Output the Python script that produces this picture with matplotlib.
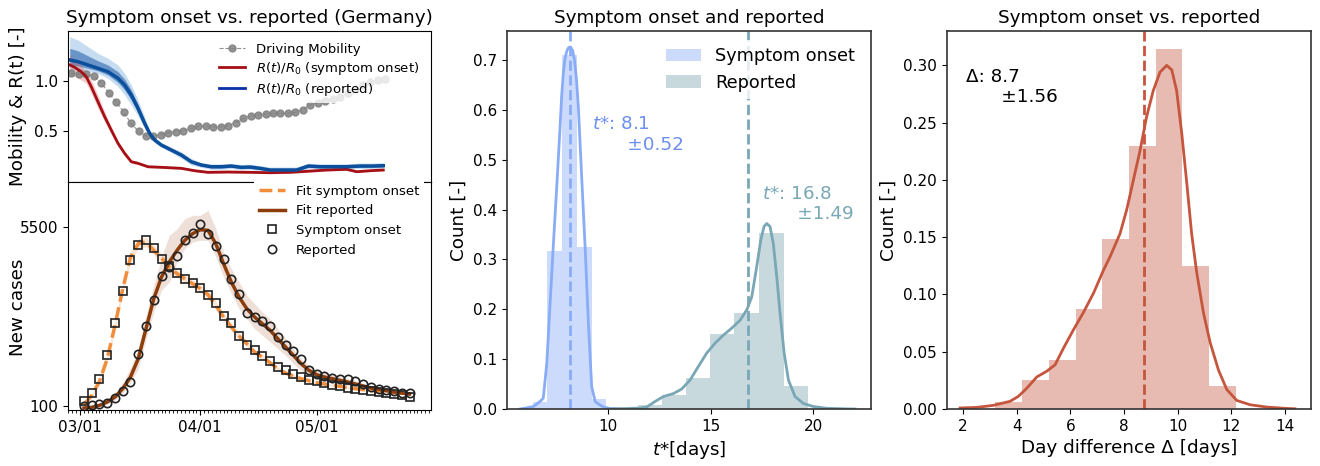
import numpy as np
import matplotlib
matplotlib.use('Agg')
import matplotlib.pyplot as plt
import matplotlib.dates as mdates
import pandas as pd
from datetime import datetime

# ---- upper left: mobility and R(t)/R0 (x = sample index) ----
mobility = [1.077, 1.07, 1.067, 1.05, 0.983, 0.883, 0.79, 0.69, 0.577, 0.497,
            0.45, 0.453, 0.463, 0.48, 0.493, 0.503, 0.527, 0.547, 0.55, 0.543,
            0.54, 0.553, 0.583, 0.627, 0.65, 0.66, 0.67, 0.677, 0.677, 0.677,
            0.687, 0.71, 0.763, 0.783, 0.797, 0.817, 0.837, 0.877, 0.917, 0.96,
            0.993, 1.01, 1.017]

rep_u = [-0.2, 0.9, 2.24, 3.57, 4.91, 6.25, 7.14, 8.03, 8.93, 9.82,
         10.49, 11.16, 12.05, 13.39, 14.73, 16.06, 17.4, 18.74, 20.08, 21.42,
         22.76, 23.92, 25.26, 26.6, 28.38, 30.17, 31.73, 33.29, 35.07, 36.86,
         38.65, 40.43, 41.77]
rep_R = [1.21, 1.193, 1.16, 1.127, 1.093, 1.027, 0.96, 0.86, 0.727, 0.577,
         0.477, 0.41, 0.36, 0.31, 0.26, 0.193, 0.16, 0.143, 0.143, 0.15,
         0.137, 0.14, 0.127, 0.11, 0.11, 0.11, 0.15, 0.143, 0.143, 0.143,
         0.15, 0.15, 0.153]
rep_R_hi = [1.443, 1.41, 1.343, 1.277, 1.227, 1.16, 1.077, 0.96, 0.81, 0.643,
            0.51, 0.437, 0.383, 0.337, 0.293, 0.227, 0.183, 0.17, 0.17, 0.175,
            0.165, 0.168, 0.155, 0.14, 0.14, 0.14, 0.178, 0.172, 0.172, 0.172,
            0.18, 0.18, 0.185]
rep_R_lo = [1.11, 1.11, 1.093, 1.077, 1.027, 0.943, 0.86, 0.76, 0.65, 0.527,
            0.443, 0.383, 0.337, 0.283, 0.227, 0.16, 0.137, 0.117, 0.117, 0.125,
            0.112, 0.115, 0.102, 0.088, 0.088, 0.088, 0.125, 0.118, 0.118, 0.118,
            0.125, 0.125, 0.128]

sym_u = [-0.2, 0.45, 1.34, 2.0, 2.68, 3.57, 4.47, 5.35, 6.25, 7.14,
         8.03, 8.93, 10.27, 12.05, 14.73, 16.52, 18.3, 20.98, 23.92, 26.6,
         29.28, 31.51, 34.19, 36.86, 38.2, 39.99, 41.77]
sym_R = [1.16, 1.137, 1.093, 1.043, 0.943, 0.793, 0.643, 0.51, 0.377, 0.277,
         0.193, 0.177, 0.143, 0.137, 0.127, 0.103, 0.087, 0.09, 0.087, 0.083,
         0.087, 0.097, 0.11, 0.117, 0.093, 0.103, 0.11]
sym_R_hi = [1.26, 1.217, 1.16, 1.093, 1.01, 0.86, 0.693, 0.543, 0.403, 0.297,
            0.21, 0.19, 0.155, 0.148, 0.138, 0.114, 0.098, 0.1, 0.097, 0.093,
            0.097, 0.107, 0.12, 0.127, 0.103, 0.113, 0.12]
sym_R_lo = [1.06, 1.043, 1.01, 0.977, 0.877, 0.727, 0.593, 0.47, 0.35, 0.25,
            0.177, 0.165, 0.131, 0.126, 0.116, 0.092, 0.076, 0.08, 0.077, 0.073,
            0.077, 0.087, 0.1, 0.107, 0.083, 0.093, 0.1]

# ---- lower left: new cases, every second day from 2020-03-02 ----
dates = pd.date_range('2020-03-02', periods=43, freq='2D')
cases_sym = [242, 492, 915, 1639, 2594, 3560, 4505, 4967, 5108, 4877,
             4526, 4314, 4123, 3942, 3811, 3660, 3440, 3198, 2815, 2594,
             2221, 1950, 1783, 1622, 1446, 1290, 1175, 1080, 964, 889,
             853, 798, 743, 712, 652, 602, 582, 552, 517, 492,
             461, 421, 381]
cases_rep = [100, 140, 170, 200, 332, 553, 824, 1669, 2514, 3307,
             4022, 4304, 4636, 5108, 5329, 5582, 5299, 4937, 4526, 3923,
             3470, 2906, 2785, 2655, 2514, 2172, 1931, 1750, 1528, 1177,
             1056, 996, 945, 925, 925, 845, 764, 683, 623, 583,
             553, 502, 482]
fit_sym = [140, 422, 845, 1528, 2534, 3640, 4595, 4997, 5048, 4797,
           4565, 4294, 4092, 3942, 3790, 3640, 3458, 3138, 2785, 2484,
           2212, 1980, 1729, 1578, 1406, 1225, 1096, 1005, 925, 864,
           804, 764, 724, 694, 653, 623, 593, 573, 543, 522,
           502, 482, 462]
fit_sym_hi = [170, 480, 930, 1650, 2700, 3800, 4750, 5150, 5200, 4950,
              4700, 4420, 4210, 4050, 3900, 3750, 3570, 3260, 2900, 2590,
              2310, 2070, 1810, 1650, 1470, 1285, 1150, 1055, 970, 905,
              845, 800, 760, 728, 686, 655, 624, 603, 572, 550,
              530, 509, 488]
fit_sym_lo = [110, 370, 770, 1420, 2380, 3480, 4440, 4840, 4900, 4650,
              4430, 4170, 3975, 3835, 3680, 3530, 3350, 3020, 2670, 2380,
              2115, 1890, 1650, 1505, 1340, 1165, 1042, 955, 880, 823,
              763, 728, 688, 660, 620, 591, 562, 543, 514, 494,
              475, 456, 436]
fit_rep = [40, 60, 120, 221, 372, 623, 975, 1528, 2433, 3337,
           3992, 4444, 4797, 5099, 5299, 5419, 5400, 4997, 4393, 3841,
           3389, 3035, 2785, 2583, 2384, 2130, 1880, 1630, 1376, 1177,
           1045, 975, 925, 875, 824, 764, 703, 643, 603, 563,
           522, 492, 462]
fit_rep_hi = [60, 90, 170, 300, 480, 800, 1250, 1828, 2836, 3740,
              4595, 5250, 5450, 5751, 5853, 5853, 6004, 5450, 4746, 4242,
              3841, 3440, 3187, 2936, 2734, 2433, 2130, 1828, 1528, 1328,
              1177, 1105, 1040, 985, 930, 860, 790, 720, 670, 625,
              580, 545, 510]
fit_rep_lo = [20, 40, 80, 150, 280, 480, 800, 1225, 2130, 2936,
              3600, 3841, 4444, 4846, 5048, 5099, 5099, 4595, 3992, 3488,
              3035, 2734, 2433, 2233, 2031, 1828, 1630, 1376, 1177, 1026,
              925, 845, 810, 770, 720, 670, 620, 570, 535, 500,
              465, 440, 415]

# ---- middle: t* distributions ----
sym_edges = [6.32, 7.04, 7.76, 8.48, 9.20, 9.92]
sym_counts = [0.014, 0.317, 0.710, 0.325, 0.021]
rep_edges = [11.48, 12.63, 13.82, 14.98, 16.16, 17.37, 18.57, 19.76]
rep_counts = [0.008, 0.029, 0.063, 0.150, 0.192, 0.353, 0.047]
sym_kde_x = [5.71, 6.36, 6.68, 6.84, 7.01, 7.17, 7.33, 7.50, 7.66, 7.74,
             7.82, 7.90, 7.99, 8.08, 8.18, 8.27, 8.36, 8.45, 8.55, 8.72,
             8.88, 9.04, 9.20, 9.37, 9.53, 9.77, 10.10, 10.59]
sym_kde_y = [0.0, 0.005, 0.015, 0.022, 0.091, 0.210, 0.329, 0.448, 0.567, 0.630,
             0.675, 0.703, 0.718, 0.725, 0.725, 0.719, 0.700, 0.665, 0.606, 0.459,
             0.325, 0.172, 0.045, 0.015, 0.010, 0.004, 0.001, 0.0]
rep_kde_x = [9.94, 10.91, 11.56, 11.89, 12.29, 12.70, 13.19, 13.59, 14.0, 14.40,
             14.81, 15.22, 15.62, 16.03, 16.44, 16.77, 17.01, 17.25, 17.45, 17.61,
             17.74, 17.90, 18.06, 18.23, 18.39, 18.59, 18.80, 19.12, 19.53, 20.01,
             20.67, 21.64, 22.05]
rep_kde_y = [0.0, 0.001, 0.002, 0.004, 0.015, 0.025, 0.031, 0.040, 0.058, 0.085,
             0.112, 0.132, 0.148, 0.162, 0.178, 0.199, 0.225, 0.285, 0.339, 0.366,
             0.372, 0.366, 0.332, 0.265, 0.192, 0.112, 0.058, 0.025, 0.011, 0.005,
             0.0015, 0.0003, 0.0]
sym_mean, sym_std = 8.13, 0.52
rep_mean, rep_std = 16.84, 1.49

# ---- right: day difference ----
diff_edges = [3.2, 4.2, 5.2, 6.2, 7.19, 8.19, 9.18, 10.17, 11.17, 12.16]
diff_counts = [0.0058, 0.0256, 0.043, 0.0875, 0.148, 0.2297, 0.314, 0.125, 0.0203]
diff_kde_x = [1.89, 2.51, 3.13, 3.75, 4.06, 4.37, 4.75, 5.12, 5.43, 5.74,
              6.11, 6.48, 6.86, 7.23, 7.48, 7.85, 8.10, 8.35, 8.60, 8.84,
              9.09, 9.34, 9.59, 9.78, 9.96, 10.15, 10.34, 10.52, 10.71, 10.96,
              11.21, 11.52, 11.83, 12.20, 12.70, 13.32, 14.06, 14.37]
diff_kde_y = [0.0009, 0.0014, 0.0032, 0.0067, 0.011, 0.018, 0.028, 0.033, 0.0386, 0.053,
              0.069, 0.084, 0.101, 0.121, 0.133, 0.153, 0.174, 0.2, 0.226, 0.255,
              0.278, 0.294, 0.300, 0.296, 0.278, 0.241, 0.197, 0.153, 0.119, 0.084,
              0.058, 0.034, 0.017, 0.0075, 0.0037, 0.0017, 0.0005, 0.0002]
diff_mean, diff_std = 8.74, 1.56

fig = plt.figure(figsize=(13.2, 4.66), dpi=100)
ax_r = fig.add_axes([0.0515, 0.6094, 0.275, 0.3241])
ax_c = fig.add_axes([0.0515, 0.1202, 0.275, 0.4893])
ax_m = fig.add_axes([0.3841, 0.1223, 0.2758, 0.8112])
ax_d = fig.add_axes([0.7174, 0.1223, 0.2758, 0.8112])

tick_fs = 11
lab_fs = 13.2

# upper left
rep_mid_lo = (np.array(rep_R_lo) + rep_R) / 2
rep_mid_hi = (np.array(rep_R_hi) + rep_R) / 2
ax_r.fill_between(rep_u, rep_R_lo, rep_R_hi, color='#5d9bd6', alpha=0.35, lw=0)
ax_r.fill_between(rep_u, rep_mid_lo, rep_mid_hi, color='#1c5aa6', alpha=0.55, lw=0)
ax_r.fill_between(sym_u, sym_R_lo, sym_R_hi, color='#d9534f', alpha=0.3, lw=0)
ax_r.plot(range(len(mobility)), mobility, '--o', color='gray', lw=0.8, ms=5,
          alpha=0.85, label='Driving Mobility')
ax_r.plot(sym_u, sym_R, color='#a50f15', lw=2, label=r'$R(t)/R_0$ (symptom onset)')
ax_r.plot(rep_u, rep_R, color='#0b4f9c', lw=2.5)
ax_r.plot([], [], color='#0a2fa8', lw=2, label=r'$R(t)/R_0$ (reported)')
ax_r.set_xlim(-0.44, 48.15)
ax_r.set_ylim(-0.01, 1.5)
ax_r.set_yticks([0.5, 1.0])
ax_r.set_xticks([])
ax_r.tick_params(labelsize=tick_fs)
ax_r.set_ylabel('Mobility & R(t) [-]', fontsize=lab_fs)
ax_r.yaxis.set_label_coords(-0.113, 0.5)
ax_r.set_title('Symptom onset vs. reported (Germany)', fontsize=lab_fs)
ax_r.legend(loc='upper right', fontsize=9.5, frameon=True, edgecolor='none',
            framealpha=0.8, handlelength=2.0, labelspacing=0.3)

# lower left
ax_c.fill_between(dates, fit_sym_lo, fit_sym_hi, color='#f5b88a', alpha=0.35, lw=0)
ax_c.fill_between(dates, fit_rep_lo, fit_rep_hi, color='#c99b80', alpha=0.3, lw=0)
ax_c.plot(dates, fit_sym, '--', color='#f28e3b', lw=2.5, label='Fit symptom onset')
ax_c.plot(dates, fit_rep, '-', color='#8c3d0b', lw=2.5, label='Fit reported')
ax_c.plot(dates, cases_sym, 's', mfc='none', mec='#222222', mew=1.2, ms=6,
          label='Symptom onset')
ax_c.plot(dates, cases_rep, 'o', mfc='none', mec='#222222', mew=1.2, ms=6,
          label='Reported')
ax_c.set_xlim(datetime(2020, 2, 26, 21), datetime(2020, 5, 30, 12))
ax_c.set_ylim(-20, 6860)
ax_c.set_yticks([100, 5500])
ax_c.xaxis.set_major_locator(mdates.MonthLocator())
ax_c.xaxis.set_major_formatter(mdates.DateFormatter('%m/%d'))
ax_c.xaxis.set_minor_locator(mdates.DayLocator())
ax_c.tick_params(labelsize=tick_fs)
ax_c.set_ylabel('New cases', fontsize=lab_fs)
ax_c.yaxis.set_label_coords(-0.113, 0.45)
lg = ax_c.legend(loc='upper right', bbox_to_anchor=(1.0, 1.04), fontsize=9.5,
                 frameon=True, edgecolor='none', framealpha=1.0, handlelength=2.0)
lg.set_zorder(10)

# middle
ax_m.bar(sym_edges[:-1], sym_counts, width=np.diff(sym_edges), align='edge',
         color='#80a6f5', alpha=0.4, lw=0, label='Symptom onset')
ax_m.bar(rep_edges[:-1], rep_counts, width=np.diff(rep_edges), align='edge',
         color='#76a1ad', alpha=0.4, lw=0, label='Reported')
ax_m.plot(sym_kde_x, sym_kde_y, color='#89acf7', lw=2)
ax_m.plot(rep_kde_x, rep_kde_y, color='#79a7b5', lw=2)
ax_m.axvline(sym_mean, color='#89acf7', ls='--', lw=2)
ax_m.axvline(rep_mean, color='#79a7b5', ls='--', lw=2)
ax_m.text(9.2, 0.59, '$t$*: %.1f\n      ±%.2f' % (sym_mean, sym_std), color='#6d8ff0',
          fontsize=lab_fs, va='top')
ax_m.text(17.5, 0.45, '$t$*: %.1f\n      ±%.2f' % (rep_mean, rep_std), color='#79a7b5',
          fontsize=lab_fs, va='top')
ax_m.set_xlim(5.07, 22.83)
ax_m.set_ylim(0, 0.758)
ax_m.set_xticks([10, 15, 20])
ax_m.tick_params(labelsize=tick_fs)
ax_m.set_xlabel('$t$*[days]', fontsize=lab_fs)
ax_m.set_ylabel('Count [-]', fontsize=lab_fs)
ax_m.set_title('Symptom onset and reported', fontsize=lab_fs)
ax_m.legend(loc='upper right', fontsize=12.7, frameon=True, edgecolor='none', framealpha=0.8)

# right
ax_d.bar(diff_edges[:-1], diff_counts, width=np.diff(diff_edges), align='edge',
         color='#c5553d', alpha=0.4, lw=0)
ax_d.plot(diff_kde_x, diff_kde_y, color='#c5553d', lw=2)
ax_d.axvline(diff_mean, color='#c5553d', ls='--', lw=2)
ax_d.text(2.1, 0.298, 'Δ: %.1f\n      ±%.2f' % (diff_mean, diff_std), color='black',
          fontsize=lab_fs, va='top')
ax_d.set_xlim(1.4, 14.97)
ax_d.set_ylim(0, 0.33)
ax_d.set_xticks(range(2, 15, 2))
ax_d.set_yticks(np.arange(0, 0.31, 0.05))
ax_d.yaxis.set_major_formatter(matplotlib.ticker.FormatStrFormatter('%.2f'))
ax_d.tick_params(labelsize=tick_fs)
ax_d.set_xlabel('Day difference Δ [days]', fontsize=lab_fs)
ax_d.set_ylabel('Count [-]', fontsize=lab_fs)
ax_d.set_title('Symptom onset vs. reported', fontsize=lab_fs)

for ax in (ax_m, ax_d):
    for s in ax.spines.values():
        s.set_color('#333333')
        s.set_linewidth(1.2)

fig.savefig('out.png', dpi=100)
